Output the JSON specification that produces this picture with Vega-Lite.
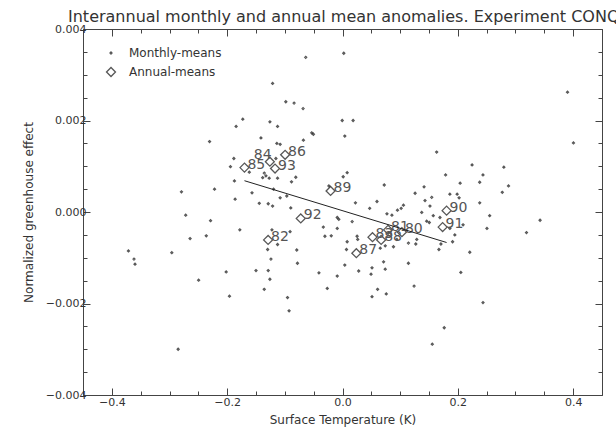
{
  "$schema": "https://vega.github.io/schema/vega-lite/v6.json",
  "width": 519,
  "height": 366,
  "autosize": {"type": "none"},
  "padding": {"left": 83, "top": 29, "right": 14, "bottom": 36},
  "title": {
    "text": "Interannual monthly and annual mean anomalies. Experiment CONQ",
    "anchor": "start",
    "frame": "group",
    "offset": -2,
    "dx": -15,
    "font": "DejaVu Sans",
    "fontSize": 16,
    "fontWeight": "normal",
    "color": "#333"
  },
  "datasets": {
    "monthly": [
      {"x": -0.0638, "y": 0.00338}, {"x": 0.0022, "y": 0.00347}, {"x": -0.1212, "y": 0.00281},
      {"x": -0.0983, "y": 0.00241}, {"x": -0.0840, "y": 0.00238}, {"x": -0.0684, "y": 0.00226},
      {"x": -0.1845, "y": 0.00187}, {"x": -0.1729, "y": 0.00203}, {"x": -0.1259, "y": 0.00197},
      {"x": -0.1126, "y": 0.00187}, {"x": -0.0005, "y": 0.00200}, {"x": 0.0184, "y": 0.00200},
      {"x": -0.2305, "y": 0.00154}, {"x": -0.1414, "y": 0.00162}, {"x": -0.1138, "y": 0.00150},
      {"x": -0.1081, "y": 0.00148}, {"x": -0.0678, "y": 0.00157}, {"x": -0.0534, "y": 0.00173},
      {"x": -0.0505, "y": 0.00170}, {"x": 0.0040, "y": 0.00166}, {"x": -0.1884, "y": 0.00117},
      {"x": -0.1943, "y": 0.00099}, {"x": -0.1155, "y": 0.00117}, {"x": -0.1616, "y": 0.00087},
      {"x": -0.1357, "y": 0.00085}, {"x": -0.1328, "y": 0.00079}, {"x": -0.1384, "y": 0.00075},
      {"x": -0.1271, "y": 0.00074}, {"x": -0.1126, "y": 0.00074}, {"x": -0.0810, "y": 0.00076},
      {"x": -0.0884, "y": 0.00066}, {"x": 0.0012, "y": 0.00077}, {"x": 0.0081, "y": 0.00086},
      {"x": -0.1874, "y": 0.00068}, {"x": -0.2793, "y": 0.00044}, {"x": -0.2219, "y": 0.00050},
      {"x": -0.1569, "y": 0.00042}, {"x": -0.1195, "y": 0.00050}, {"x": -0.1081, "y": 0.00031},
      {"x": -0.0966, "y": 0.00035}, {"x": -0.1862, "y": 0.00028}, {"x": -0.1443, "y": 0.00019},
      {"x": -0.1288, "y": 0.00018}, {"x": -0.1212, "y": 0.00013}, {"x": -0.0897, "y": 0.00009},
      {"x": -0.0236, "y": 0.00057}, {"x": -0.0091, "y": -0.00012}, {"x": -0.0064, "y": -0.00016},
      {"x": -0.2719, "y": -0.00007},
      {"x": -0.2288, "y": -0.00019}, {"x": -0.1781, "y": -0.00039}, {"x": -0.2643, "y": -0.00058},
      {"x": -0.2362, "y": -0.00052}, {"x": -0.3712, "y": -0.00085}, {"x": -0.3616, "y": -0.00103},
      {"x": -0.3598, "y": -0.00114}, {"x": -0.2960, "y": -0.00089}, {"x": -0.2495, "y": -0.00149},
      {"x": -0.2017, "y": -0.00131}, {"x": -0.1960, "y": -0.00184}, {"x": -0.1500, "y": -0.00128},
      {"x": -0.1357, "y": -0.00169}, {"x": -0.1298, "y": -0.00082}, {"x": -0.1224, "y": -0.00039},
      {"x": -0.1126, "y": -0.00071}, {"x": -0.0909, "y": -0.00043}, {"x": -0.1241, "y": -0.00103},
      {"x": -0.1288, "y": -0.00128}, {"x": -0.1259, "y": -0.00147}, {"x": -0.0953, "y": -0.00187},
      {"x": -0.0926, "y": -0.00216}, {"x": -0.0793, "y": -0.00083}, {"x": -0.0781, "y": -0.00112},
      {"x": -0.2850, "y": -0.00300},
      {"x": 0.0224, "y": 0.00020}, {"x": 0.0471, "y": 0.00008}, {"x": 0.0598, "y": 0.00023},
      {"x": 0.0167, "y": -0.00021}, {"x": -0.0333, "y": -0.00033}, {"x": -0.0305, "y": -0.00053},
      {"x": -0.0195, "y": -0.00052}, {"x": -0.0091, "y": -0.00036}, {"x": 0.0081, "y": -0.00065},
      {"x": 0.0253, "y": -0.00053}, {"x": 0.0264, "y": -0.00060}, {"x": 0.0069, "y": -0.00082},
      {"x": 0.0655, "y": -0.00079}, {"x": 0.0040, "y": -0.00116}, {"x": 0.0281, "y": -0.00129},
      {"x": 0.0512, "y": -0.00122}, {"x": -0.0409, "y": -0.00133}, {"x": -0.0091, "y": -0.00140},
      {"x": 0.0495, "y": -0.00136}, {"x": -0.0264, "y": -0.00167}, {"x": 0.0609, "y": -0.00169},
      {"x": 0.0512, "y": -0.00185},
      {"x": 0.3902, "y": 0.00262}, {"x": 0.4005, "y": 0.00151}, {"x": 0.1633, "y": 0.00131},
      {"x": 0.2247, "y": 0.00103}, {"x": 0.2798, "y": 0.00098}, {"x": 0.1788, "y": 0.00081},
      {"x": 0.2436, "y": 0.00081}, {"x": 0.0724, "y": 0.00059}, {"x": 0.2040, "y": 0.00063},
      {"x": 0.2379, "y": 0.00065}, {"x": 0.2879, "y": 0.00057}, {"x": 0.2771, "y": 0.00043},
      {"x": 0.1414, "y": 0.00055}, {"x": 0.1259, "y": 0.00041}, {"x": 0.1862, "y": 0.00039},
      {"x": 0.1988, "y": 0.00039}, {"x": 0.2022, "y": 0.00031}, {"x": 0.1547, "y": 0.00032},
      {"x": 0.1431, "y": 0.00025}, {"x": 0.1517, "y": 0.00013}, {"x": 0.1057, "y": 0.00015},
      {"x": 0.1017, "y": 0.00008}, {"x": 0.0953, "y": 0.00004}, {"x": 0.0771, "y": -0.00004},
      {"x": 0.0857, "y": -0.00007}, {"x": 0.2379, "y": 0.00020}, {"x": 0.1374, "y": -0.00001},
      {"x": 0.1574, "y": -0.00008}, {"x": 0.1460, "y": -0.00020}, {"x": 0.1505, "y": -0.00023},
      {"x": 0.1690, "y": -0.00012}, {"x": 0.2552, "y": -0.00008}, {"x": 0.2091, "y": -0.00028},
      {"x": 0.2505, "y": -0.00036}, {"x": 0.1862, "y": -0.00036}, {"x": 0.1948, "y": -0.00050},
      {"x": 0.1909, "y": -0.00065}, {"x": 0.1707, "y": -0.00070}, {"x": 0.1672, "y": -0.00082},
      {"x": 0.1288, "y": -0.00060}, {"x": 0.1143, "y": -0.00068}, {"x": 0.1271, "y": -0.00070},
      {"x": 0.0943, "y": -0.00060}, {"x": 0.0884, "y": -0.00076}, {"x": 0.0741, "y": -0.00074},
      {"x": 0.2207, "y": -0.00088}, {"x": 0.3190, "y": -0.00045}, {"x": 0.3426, "y": -0.00018},
      {"x": 0.0712, "y": -0.00109}, {"x": 0.0741, "y": -0.00125}, {"x": 0.1143, "y": -0.00112},
      {"x": 0.2052, "y": -0.00132}, {"x": 0.1241, "y": -0.00162}, {"x": 0.0759, "y": -0.00179},
      {"x": 0.2436, "y": -0.00198}, {"x": 0.1764, "y": -0.00253}, {"x": 0.1557, "y": -0.00289}
    ],
    "annual": [
      {"yr": "80", "x": 0.103, "y": -0.00044},
      {"yr": "81", "x": 0.079, "y": -0.00039},
      {"yr": "82", "x": -0.129, "y": -0.00061},
      {"yr": "83", "x": 0.052, "y": -0.00055},
      {"yr": "84", "x": -0.126, "y": 0.00110},
      {"yr": "85", "x": -0.170, "y": 0.00097},
      {"yr": "86", "x": -0.0995, "y": 0.00125},
      {"yr": "87", "x": 0.024, "y": -0.00090},
      {"yr": "88", "x": 0.067, "y": -0.00061},
      {"yr": "89", "x": -0.0207, "y": 0.00046},
      {"yr": "90", "x": 0.1805, "y": 0.00003},
      {"yr": "91", "x": 0.1736, "y": -0.00033},
      {"yr": "92", "x": -0.0724, "y": -0.00014},
      {"yr": "93", "x": -0.117, "y": 0.00095}
    ],
    "fit": [
      {"x": -0.170, "y": 0.000684, "x2": 0.1805, "y2": -0.000667}
    ]
  },
  "layer": [
    {
      "data": {"name": "monthly"},
      "mark": {"type": "point", "filled": false, "size": 80, "strokeWidth": 1.3, "color": "#111"},
      "encoding": {
        "x": {
          "field": "x", "type": "quantitative",
          "scale": {"domain": [-0.45, 0.45], "nice": false, "zero": false},
          "axis": {
            "orient": "bottom", "values": [-0.4, -0.2, 0, 0.2, 0.4], "format": ".1f",
            "ticks": true, "tickSize": -7, "labelPadding": 8,
            "title": "Surface Temperature (K)", "titlePadding": 7
          }
        },
        "y": {
          "field": "y", "type": "quantitative",
          "scale": {"domain": [-0.004, 0.004], "nice": false, "zero": false},
          "axis": {
            "orient": "left", "values": [-0.004, -0.002, 0, 0.002, 0.004], "format": ".3f",
            "ticks": true, "tickSize": -7, "labelPadding": 4,
            "title": "Normalized greenhouse effect", "titlePadding": 10
          }
        },
        "shape": {
          "datum": "Monthly-means", "type": "nominal",
          "scale": {
            "domain": ["Monthly-means", "Annual-means"],
            "range": ["M-0.22,0L0,-0.22L0.22,0L0,0.22Z", "diamond"]
          },
          "legend": {
            "orient": "none", "legendX": 22, "legendY": 18, "title": null,
            "labelFont": "DejaVu Sans", "labelFontSize": 12, "labelColor": "#333",
            "labelOffset": 12, "rowPadding": 5, "symbolSize": 80,
            "symbolStrokeColor": "#111", "symbolStrokeWidth": 1.3
          }
        }
      }
    },
    {
      "data": {"name": "annual"},
      "mark": {"type": "point", "filled": false, "size": 80, "strokeWidth": 1.3, "color": "#111"},
      "encoding": {
        "x": {
          "field": "x", "type": "quantitative",
          "axis": {
            "orient": "top", "labels": false, "title": null, "tickSize": -4,
            "values": [-0.4, -0.35, -0.3, -0.25, -0.2, -0.15, -0.1, -0.05, 0, 0.05, 0.1, 0.15, 0.2, 0.25, 0.3, 0.35, 0.4]
          }
        },
        "y": {
          "field": "y", "type": "quantitative",
          "axis": {
            "orient": "right", "labels": false, "title": null, "tickSize": -4,
            "values": [-0.004, -0.0035, -0.003, -0.0025, -0.002, -0.0015, -0.001, -0.0005, 0, 0.0005, 0.001, 0.0015, 0.002, 0.0025, 0.003, 0.0035, 0.004]
          }
        },
        "shape": {"datum": "Annual-means", "type": "nominal"}
      }
    },
    {
      "data": {"name": "annual"},
      "transform": [{"filter": "datum.yr != '84'"}],
      "mark": {"type": "text", "align": "left", "baseline": "alphabetic", "dx": 3, "dy": 1,
               "font": "DejaVu Sans", "fontSize": 14, "color": "#555"},
      "encoding": {
        "x": {
          "field": "x", "type": "quantitative",
          "axis": {
            "orient": "bottom", "labels": false, "title": null, "tickSize": -4,
            "values": [-0.35, -0.3, -0.25, -0.15, -0.1, -0.05, 0.05, 0.1, 0.15, 0.25, 0.3, 0.35]
          }
        },
        "y": {
          "field": "y", "type": "quantitative",
          "axis": {
            "orient": "left", "labels": false, "title": null, "tickSize": -4,
            "values": [-0.0035, -0.003, -0.0025, -0.0015, -0.001, -0.0005, 0.0005, 0.001, 0.0015, 0.0025, 0.003, 0.0035]
          }
        },
        "text": {"field": "yr"}
      }
    },
    {
      "data": {"name": "annual"},
      "transform": [{"filter": "datum.yr == '84'"}],
      "mark": {"type": "text", "align": "left", "baseline": "alphabetic", "dx": -16, "dy": -3,
               "font": "DejaVu Sans", "fontSize": 14, "color": "#555"},
      "encoding": {
        "x": {"field": "x", "type": "quantitative", "axis": null},
        "y": {"field": "y", "type": "quantitative", "axis": null},
        "text": {"field": "yr"}
      }
    },
    {
      "data": {"name": "fit"},
      "mark": {"type": "rule", "color": "#222", "strokeWidth": 1},
      "encoding": {
        "x": {
          "field": "x", "type": "quantitative",
          "axis": {"orient": "top", "labels": false, "title": null, "tickSize": -7, "values": [-0.4, -0.2, 0, 0.2, 0.4]}
        },
        "y": {
          "field": "y", "type": "quantitative",
          "axis": {"orient": "right", "labels": false, "title": null, "tickSize": -7, "values": [-0.004, -0.002, 0, 0.002, 0.004]}
        },
        "x2": {"field": "x2"},
        "y2": {"field": "y2"}
      }
    }
  ],
  "resolve": {"axis": {"x": "independent", "y": "independent"}},
  "config": {
    "view": {"stroke": "#444", "strokeWidth": 1},
    "axis": {
      "grid": false, "domain": false,
      "labelFont": "DejaVu Sans", "titleFont": "DejaVu Sans",
      "labelFontSize": 11, "titleFontSize": 12, "titleFontWeight": "normal",
      "labelColor": "#333", "titleColor": "#333", "tickColor": "#444", "tickWidth": 1
    }
  }
}
